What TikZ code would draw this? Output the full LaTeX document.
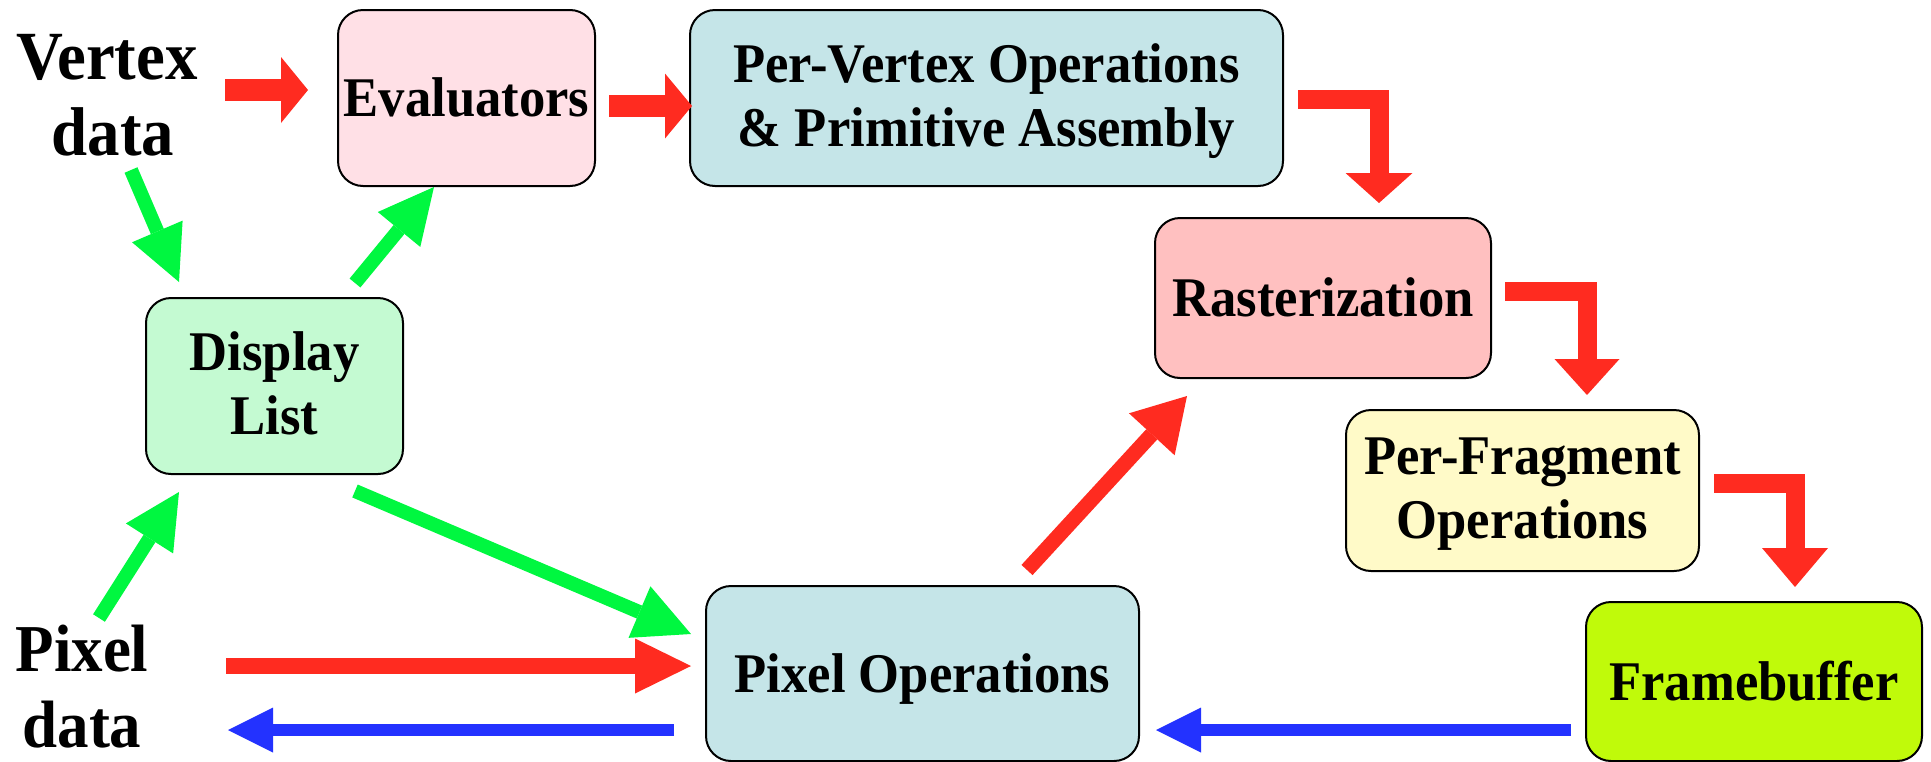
\documentclass[tikz,border=0pt]{standalone}
\usepackage{fontspec}
\setmainfont{Liberation Serif}[FakeStretch=0.94]
\usetikzlibrary{arrows.meta}
\definecolor{ared}{RGB}{255,43,32}
\definecolor{agreen}{RGB}{0,247,64}
\definecolor{ablue}{RGB}{35,50,255}
\definecolor{fEval}{RGB}{255,224,230}
\definecolor{fCyan}{RGB}{197,229,232}
\definecolor{fRast}{RGB}{255,192,192}
\definecolor{fDisp}{RGB}{196,250,210}
\definecolor{fFrag}{RGB}{255,250,200}
\definecolor{fFrame}{RGB}{192,250,10}
\begin{document}
\begin{tikzpicture}[x=1pt,y=-1pt,
  box/.style={draw=black,line width=2pt,rounded corners=25pt,align=center,
    font=\bfseries\fontsize{56}{64}\selectfont,inner sep=0pt},
  oneline/.style={text height=37pt,text depth=0pt},
  twoline/.style={text height=101pt,text depth=5pt},
  lbl/.style={align=center,font=\bfseries\fontsize{67}{76}\selectfont,
    text height=120pt,text depth=0pt,inner sep=0pt},
  conn/.style n args={4}{draw=#1,line width=#2,line join=miter,
    arrows={-Triangle[length=#3,width=#4,line width=0pt 0 0]}}
]
\useasboundingbox (0,0) rectangle (1931,761);

% boxes
\node[box,oneline,fill=fEval,minimum width=257pt,minimum height=176pt] (eval) at (466.5,98) {Evaluators};
\node[box,twoline,fill=fCyan,minimum width=593pt,minimum height=176pt] (pv) at (986.5,98) {Per-Vertex Operations\\\& Primitive Assembly};
\node[box,oneline,fill=fRast,minimum width=336pt,minimum height=160pt] (rast) at (1323,298) {Rasterization};
\node[box,twoline,fill=fFrag,minimum width=353pt,minimum height=161pt] (pf) at (1522.5,490.5) {Per-Fragment\\Operations};
\node[box,oneline,fill=fFrame,minimum width=336pt,minimum height=159pt] (fb) at (1754,681.5) {Framebuffer};
\node[box,oneline,fill=fCyan,minimum width=433pt,minimum height=175pt] (po) at (922.5,673.5) {Pixel Operations};
\node[box,twoline,fill=fDisp,minimum width=257pt,minimum height=176pt] (dl) at (274.5,386) {Display\\List};

% labels
\node[lbl,font=\bfseries\fontsize{69}{76}\selectfont] (vd) at (107,95) {Vertex\\\hspace*{12pt}data};
\node[lbl] (pd) at (82,687) {Pixel\\data};

% connector end points
\coordinate (r1s) at (225,90);   \coordinate (r1t) at (308,90);
\coordinate (r2s) at (609,106);  \coordinate (r2t) at (692,106);
\coordinate (r3s) at (1298,99);  \coordinate (r3t) at (1379,203);
\coordinate (r4s) at (1505,291); \coordinate (r4t) at (1587,395);
\coordinate (r5s) at (1714,483); \coordinate (r5t) at (1795,587);
\coordinate (r6s) at (226,666);  \coordinate (r6t) at (691,666);
\coordinate (r7s) at (1027,570); \coordinate (r7t) at (1187,396);
\coordinate (b1s) at (1571,730); \coordinate (b1t) at (1156,730);
\coordinate (b2s) at (674,730);  \coordinate (b2t) at (228,730);
\coordinate (g1s) at (131,170);  \coordinate (g1t) at (179,282);
\coordinate (g2s) at (355,283);  \coordinate (g2t) at (434,187);
\coordinate (g3s) at (99,618);   \coordinate (g3t) at (179,492);
\coordinate (g4s) at (355,491);  \coordinate (g4t) at (691,634);

% red connectors
\draw[conn={ared}{22pt}{27pt}{66pt}] (r1s) -- (r1t);
\draw[conn={ared}{22pt}{27pt}{65pt}] (r2s) -- (r2t);
\draw[conn={ared}{19pt}{30pt}{67pt}] (r3s) -| (r3t);
\draw[conn={ared}{19pt}{36pt}{65pt}] (r4s) -| (r4t);
\draw[conn={ared}{19pt}{39pt}{66pt}] (r5s) -| (r5t);
\draw[conn={ared}{16pt}{56pt}{55pt}] (r6s) -- (r6t);
\draw[conn={ared}{15pt}{52pt}{62pt}] (r7s) -- (r7t);

% blue connectors
\draw[conn={ablue}{12pt}{45pt}{45pt}] (b1s) -- (b1t);
\draw[conn={ablue}{12pt}{45pt}{45pt}] (b2s) -- (b2t);

% green connectors
\draw[conn={agreen}{14pt}{55pt}{55pt}] (g1s) -- (g1t);
\draw[conn={agreen}{14pt}{55pt}{55pt}] (g2s) -- (g2t);
\draw[conn={agreen}{14pt}{55pt}{56pt}] (g3s) -- (g3t);
\draw[conn={agreen}{14pt}{56pt}{56pt}] (g4s) -- (g4t);
\end{tikzpicture}
\end{document}
